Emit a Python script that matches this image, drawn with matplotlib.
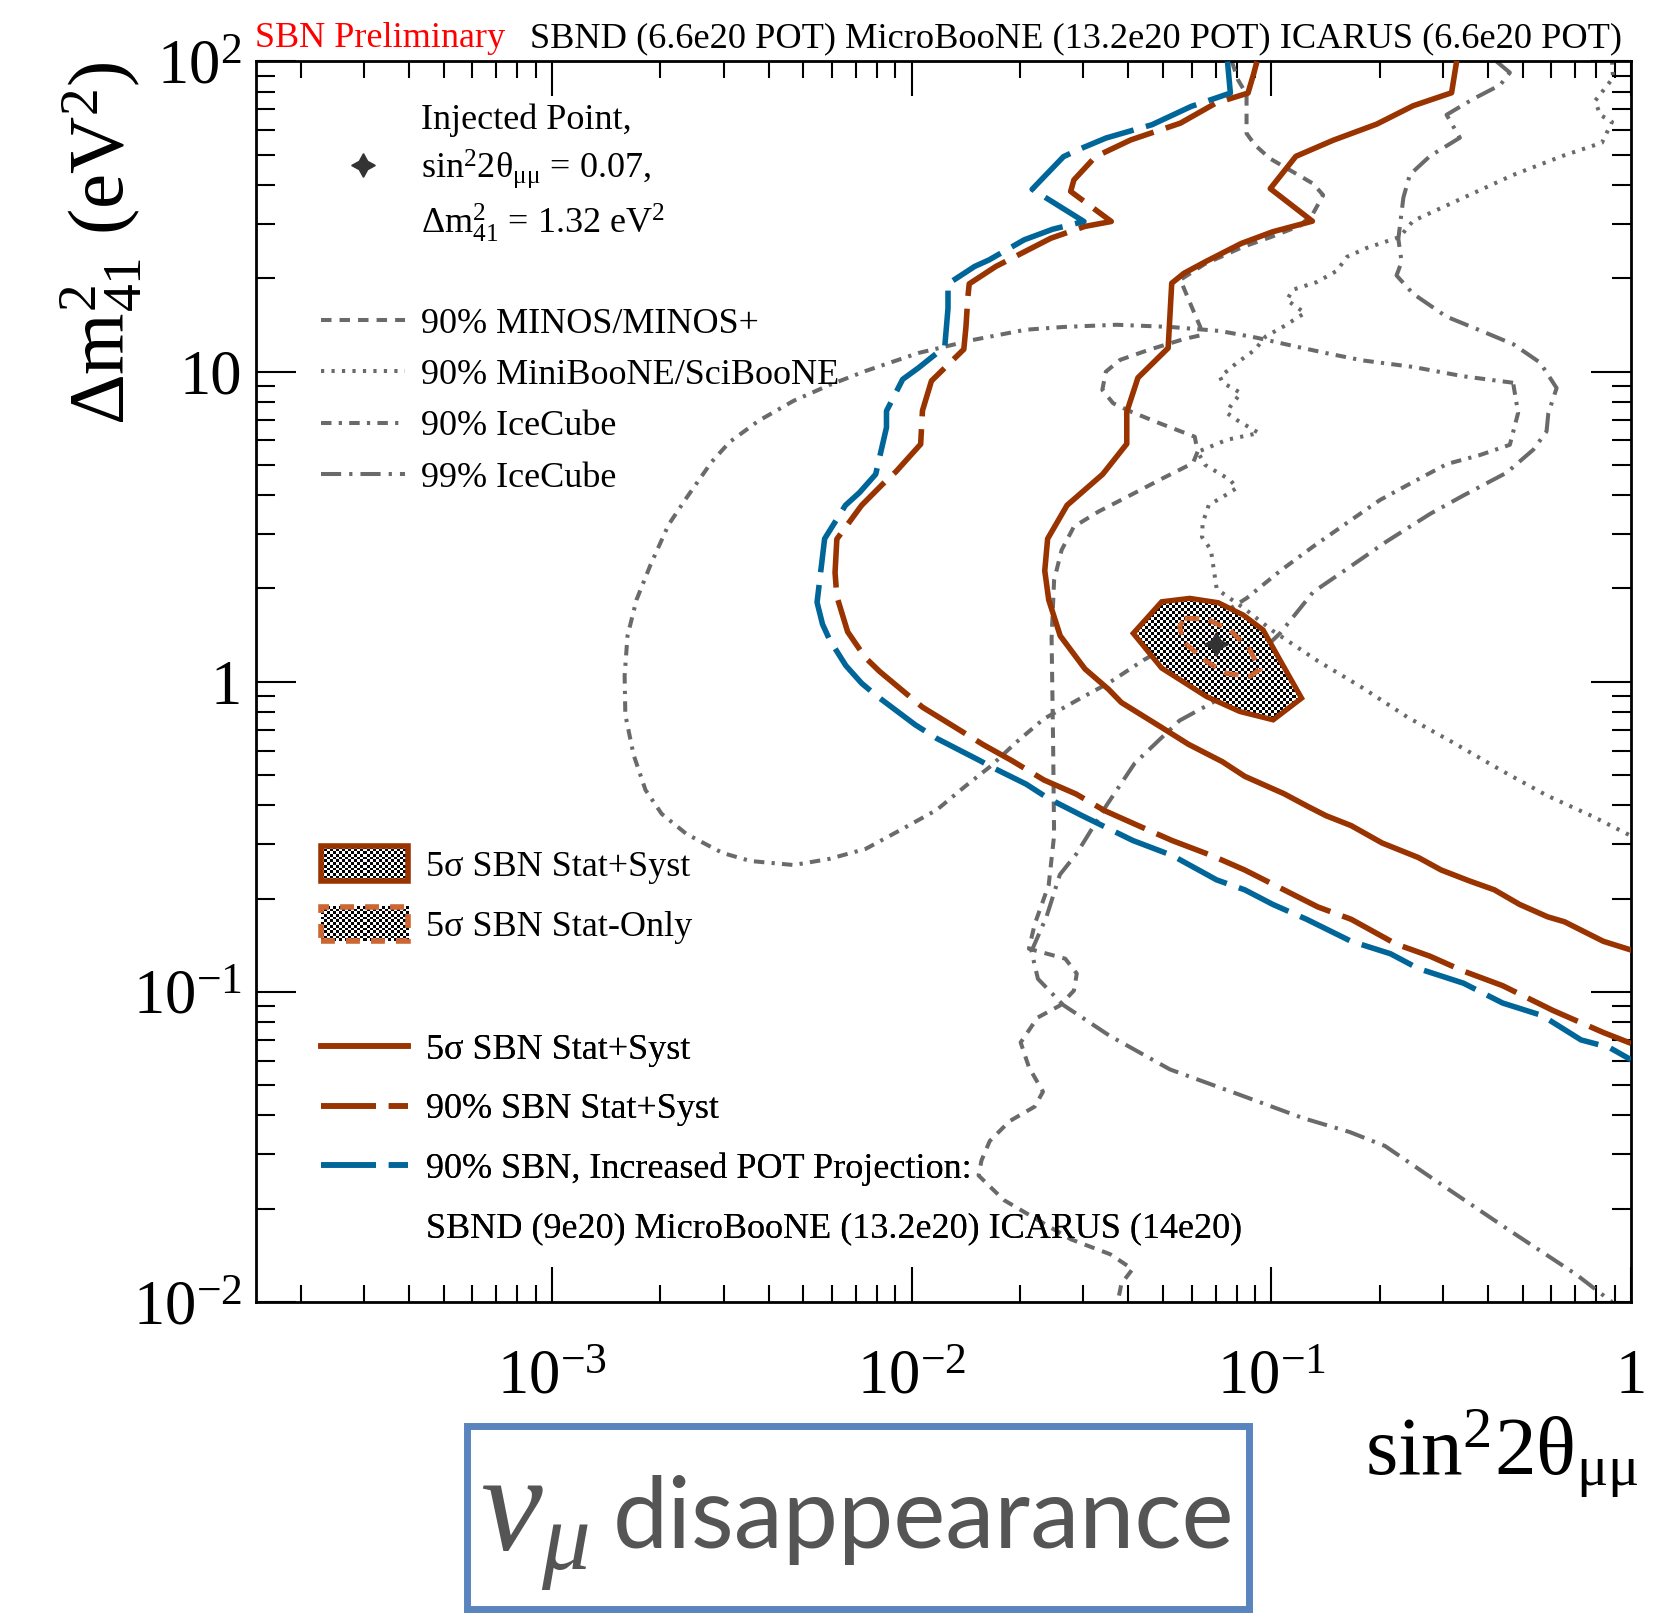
import numpy as np
import matplotlib
matplotlib.use('Agg')
import matplotlib.pyplot as plt
from matplotlib.lines import Line2D
from matplotlib.patches import Polygon, Rectangle
from matplotlib.image import BboxImage
from matplotlib.transforms import Bbox, TransformedBbox
from matplotlib.legend_handler import HandlerPatch
from matplotlib.ticker import LogLocator, FuncFormatter, NullFormatter

plt.rcParams['font.family'] = ['Liberation Serif', 'DejaVu Serif']
plt.rcParams['mathtext.fontset'] = 'custom'
plt.rcParams['mathtext.rm'] = 'Liberation Serif'
plt.rcParams['mathtext.it'] = 'Liberation Serif:italic'
plt.rcParams['mathtext.bf'] = 'Liberation Serif:bold'

# ---------------- data (log10 of sin^2 2theta, log10 of dm^2) ----------------
blue_log_sin2 = [-1.122, -1.114, -1.223, -1.332, -1.460, -1.534, -1.578, -1.665, -1.521, -1.608,
                 -1.687, -1.785, -1.825, -1.899, -1.899, -1.908, -1.980, -2.025, -2.070, -2.070,
                 -2.100, -2.145, -2.184, -2.242, -2.263, -2.248, -2.228, -2.183, -2.139, -2.099,
                 -1.990, -1.930, -1.811, -1.771, -1.682, -1.619, -1.526, -1.385, -1.276, -1.152,
                 -1.074, -0.996, -0.902, -0.778, -0.669, -0.591, -0.466, -0.357, -0.248, -0.139,
                 -0.061, 0.0]
blue_log_dm2 = [2.0, 1.898, 1.855, 1.796, 1.753, 1.717, 1.693, 1.588, 1.484, 1.459,
                1.425, 1.360, 1.339, 1.283, 1.204, 1.080, 1.013, 0.975, 0.873, 0.820,
                0.669, 0.610, 0.569, 0.461, 0.256, 0.186, 0.135, 0.052, -0.005, -0.044,
                -0.139, -0.183, -0.254, -0.279, -0.330, -0.377, -0.432, -0.512, -0.560, -0.639,
                -0.671, -0.718, -0.766, -0.837, -0.877, -0.925, -0.972, -1.036, -1.076, -1.155,
                -1.179, -1.219]

red90_log_sin2 = [-1.040, -1.050, -1.065, -1.154, -1.253, -1.391, -1.489, -1.549, -1.558, -1.445,
                  -1.519, -1.613, -1.766, -1.840, -1.844, -1.849, -1.855, -1.900, -1.945, -1.970,
                  -1.975, -2.044, -2.079, -2.139, -2.208, -2.213, -2.208, -2.178, -2.129, -2.089,
                  -1.970, -1.890, -1.801, -1.722, -1.632, -1.543, -1.463, -1.370, -1.276, -1.167,
                  -1.074, -0.965, -0.871, -0.778, -0.653, -0.559, -0.466, -0.357, -0.217, -0.077, 0.0]
red90_log_dm2 = [2.0, 1.957, 1.898, 1.866, 1.801, 1.747, 1.693, 1.618, 1.581, 1.484,
                 1.468, 1.430, 1.339, 1.283, 1.237, 1.145, 1.072, 1.021, 0.970, 0.874,
                 0.766, 0.677, 0.639, 0.569, 0.460, 0.352, 0.275, 0.161, 0.078, 0.033,
                 -0.082, -0.139, -0.203, -0.254, -0.317, -0.362, -0.416, -0.464, -0.512, -0.560,
                 -0.607, -0.671, -0.726, -0.766, -0.846, -0.885, -0.933, -0.980, -1.060, -1.131, -1.166]

red5s_log_sin2 = [-0.485, -0.499, -0.606, -0.707, -0.828, -0.932, -1.003, -0.886, -0.996, -1.084,
                  -1.182, -1.243, -1.277, -1.287, -1.371, -1.402, -1.402, -1.469, -1.568, -1.622,
                  -1.630, -1.619, -1.587, -1.518, -1.453, -1.417, -1.307, -1.230, -1.136, -1.074,
                  -0.965, -0.902, -0.848, -0.778, -0.692, -0.591, -0.528, -0.450, -0.380, -0.310,
                  -0.232, -0.185, -0.077, 0.0]
red5s_log_dm2 = [2.0, 1.899, 1.857, 1.798, 1.746, 1.694, 1.590, 1.485, 1.451, 1.413,
                 1.355, 1.317, 1.285, 1.076, 0.980, 0.870, 0.767, 0.669, 0.569, 0.461,
                 0.358, 0.264, 0.148, 0.041, -0.024, -0.067, -0.146, -0.202, -0.258, -0.305,
                 -0.361, -0.400, -0.432, -0.464, -0.520, -0.567, -0.607, -0.642, -0.671, -0.718,
                 -0.758, -0.774, -0.837, -0.865]

island_log_sin2 = [-1.384, -1.305, -1.227, -1.148, -1.078, -1.023, -0.976, -0.916, -0.995, -1.088, -1.180, -1.305]
island_log_dm2 = [0.156, 0.258, 0.269, 0.255, 0.215, 0.167, 0.070, -0.053, -0.123, -0.096, -0.048, 0.044]

statonly_log_sin2 = [-1.241, -1.180, -1.115, -1.060, -1.032, -1.060, -1.125, -1.180, -1.245, -1.255]
statonly_log_dm2 = [0.205, 0.202, 0.167, 0.103, 0.040, 0.017, 0.027, 0.065, 0.129, 0.178]

injected_sin2 = [0.07]
injected_dm2 = [1.32]

minos_log_sin2 = [-1.110, -1.092, -1.069, -1.069, -1.046, -1.004, -0.949, -0.884, -0.856, -0.884,
                  -0.921, -1.001, -1.079, -1.185, -1.253, -1.218, -1.198, -1.193, -1.243, -1.341,
                  -1.420, -1.460, -1.470, -1.440, -1.391, -1.312, -1.213, -1.205, -1.218, -1.302,
                  -1.381, -1.480, -1.549, -1.583, -1.604, -1.611, -1.607, -1.604, -1.619, -1.658,
                  -1.674, -1.573, -1.541, -1.549, -1.588, -1.650, -1.697, -1.674, -1.635, -1.658,
                  -1.728, -1.783, -1.806, -1.814, -1.744, -1.650, -1.557, -1.448, -1.386, -1.417, -1.427]
minos_log_dm2 = [2.0, 1.939, 1.894, 1.768, 1.731, 1.687, 1.650, 1.606, 1.569, 1.510,
                 1.470, 1.434, 1.402, 1.347, 1.296, 1.199, 1.145, 1.118, 1.105, 1.070,
                 1.038, 1.000, 0.941, 0.898, 0.871, 0.834, 0.790, 0.742, 0.705, 0.656,
                 0.608, 0.549, 0.500, 0.425, 0.328, 0.140, -0.178, -0.496, -0.655, -0.782,
                 -0.861, -0.893, -0.941, -0.996, -1.044, -1.083, -1.163, -1.243, -1.322, -1.370,
                 -1.417, -1.481, -1.544, -1.592, -1.671, -1.735, -1.798, -1.846, -1.894, -1.941, -2.0]

mb_log_sin2 = [-0.053, -0.050, -0.100, -0.086, -0.053, -0.081, -0.189, -0.328, -0.467, -0.606,
               -0.643, -0.734, -0.790, -0.818, -0.873, -0.940, -0.957, -0.907, -0.967, -1.016,
               -1.046, -1.096, -1.143, -1.135, -1.085, -1.115, -1.124, -1.096, -1.035, -1.124,
               -1.205, -1.184, -1.115, -1.096, -1.135, -1.174, -1.191, -1.193, -1.168, -1.160,
               -1.152, -1.074, -0.996, -0.871, -0.746, -0.622, -0.498, -0.356, -0.232, -0.109, 0.0]
mb_log_dm2 = [2.0, 1.947, 1.873, 1.828, 1.805, 1.738, 1.696, 1.634, 1.560, 1.486,
              1.434, 1.399, 1.370, 1.325, 1.289, 1.264, 1.231, 1.189, 1.145, 1.113,
              1.070, 1.028, 0.983, 0.964, 0.931, 0.886, 0.867, 0.844, 0.802, 0.780,
              0.741, 0.699, 0.651, 0.625, 0.596, 0.570, 0.512, 0.467, 0.425, 0.361,
              0.299, 0.235, 0.164, 0.067, -0.020, -0.114, -0.194, -0.289, -0.368, -0.433, -0.497]

ic90_log_sin2 = [-0.328, -0.467, -0.606, -0.746, -0.837, -0.929, -1.040, -1.143, -1.282, -1.430,
                 -1.577, -1.683, -1.830, -1.981, -2.128, -2.228, -2.328, -2.426, -2.506, -2.556,
                 -2.626, -2.676, -2.726, -2.765, -2.790, -2.798, -2.796, -2.773, -2.740, -2.695,
                 -2.626, -2.526, -2.448, -2.328, -2.228, -2.128, -2.031, -1.930, -1.850, -1.780,
                 -1.711, -1.633, -1.533, -1.452, -1.355, -1.199, -1.068, -0.976, -0.885, -0.790,
                 -0.698, -0.606, -0.512, -0.420, -0.337, -0.314]
ic90_log_dm2 = [0.964, 0.985, 1.015, 1.036, 1.057, 1.080, 1.109, 1.131, 1.144, 1.151,
                1.144, 1.135, 1.102, 1.060, 1.002, 0.957, 0.906, 0.841, 0.773, 0.709,
                0.593, 0.506, 0.377, 0.264, 0.148, 0.019, -0.107, -0.236, -0.349, -0.426,
                -0.491, -0.552, -0.578, -0.591, -0.571, -0.539, -0.478, -0.413, -0.336, -0.272,
                -0.197, -0.120, -0.055, -0.004, 0.070, 0.174, 0.270, 0.357, 0.435, 0.512,
                0.586, 0.644, 0.702, 0.731, 0.764, 0.867]

ic99_log_sin2 = [-0.374, -0.337, -0.364, -0.439, -0.513, -0.476, -0.559, -0.615, -0.633, -0.647,
                 -0.638, -0.652, -0.606, -0.513, -0.420, -0.327, -0.253, -0.207, -0.230, -0.235,
                 -0.272, -0.346, -0.467, -0.559, -0.680, -0.791, -0.884, -0.976, -1.069, -1.162,
                 -1.255, -1.380, -1.458, -1.542, -1.588, -1.625, -1.667, -1.649, -1.579, -1.449,
                 -1.282, -1.097, -0.912, -0.782, -0.684, -0.544, -0.341, -0.154, -0.053]
ic99_log_dm2 = [2.0, 1.964, 1.924, 1.879, 1.828, 1.754, 1.695, 1.635, 1.561, 1.428,
                1.354, 1.310, 1.251, 1.177, 1.133, 1.088, 1.029, 0.947, 0.866, 0.807,
                0.748, 0.674, 0.600, 0.541, 0.452, 0.363, 0.289, 0.156, 0.053, -0.066,
                -0.125, -0.263, -0.398, -0.555, -0.622, -0.757, -0.869, -0.958, -1.042, -1.142,
                -1.250, -1.328, -1.407, -1.452, -1.497, -1.608, -1.767, -1.910, -2.0]

labels_gray = ['90% MINOS/MINOS+', '90% MiniBooNE/SciBooNE', '90% IceCube', '99% IceCube']
labels_patch = ['5σ SBN Stat+Syst', '5σ SBN Stat-Only']
labels_sbn = ['5σ SBN Stat+Syst', '90% SBN Stat+Syst', '90% SBN, Increased POT Projection:',
              'SBND (9e20) MicroBooNE (13.2e20) ICARUS (14e20)']
injected_labels = ['Injected Point,', r'sin$^{2}$2θ$_{\mathrm{μμ}}$ = 0.07,',
                   r'Δ$\mathrm{m}^{2}_{41}$ = 1.32 eV$^{2}$']

# ---------------- styles ----------------
RED = '#993300'
BLUE = '#006699'
ORANGE = '#cc6633'
GRAY = '#6a6a6a'
LW_SBN = 4.0
LW_GRAY = 2.9
LS_SBN_DASH = (0, (9.9, 2.3))
LS_MINOS = (0, (2.6, 2.0))
LS_MB = (0, (0.8, 1.8))
LS_IC90 = (0, (2.6, 1.8, 0.8, 1.8))
LS_IC99 = (0, (5.0, 2.0, 0.8, 2.0))
FS = 26


def P(v):
    return np.power(10.0, np.asarray(v, dtype=float))


fig = plt.figure(figsize=(16.63, 16.13), dpi=100)
ax = fig.add_axes([0.1537, 0.1928, 0.8271, 0.7691])
ax.set_xscale('log')
ax.set_yscale('log')

# gray external limits
ax.plot(P(minos_log_sin2), P(minos_log_dm2), color=GRAY, lw=LW_GRAY, ls=LS_MINOS, zorder=2)
ax.plot(P(mb_log_sin2), P(mb_log_dm2), color=GRAY, lw=LW_GRAY, ls=LS_MB, zorder=2)
ax.plot(P(np.r_[ic90_log_sin2, ic90_log_sin2[:1]]), P(np.r_[ic90_log_dm2, ic90_log_dm2[:1]]),
        color=GRAY, lw=LW_GRAY, ls=LS_IC90, zorder=2)
ax.plot(P(ic99_log_sin2), P(ic99_log_dm2), color=GRAY, lw=LW_GRAY, ls=LS_IC99, zorder=2)

# checkerboard-filled 5 sigma island
checker = np.indices((413, 458)).sum(axis=0) % 2
island = Polygon(np.column_stack([P(island_log_sin2), P(island_log_dm2)]), closed=True,
                 facecolor='none', edgecolor=RED, lw=3.8, zorder=3.5, joinstyle='miter')
ax.add_patch(island)
img = BboxImage(ax.bbox, cmap='gray', interpolation='nearest', zorder=3)
img.set_data(checker)
img.set_clim(0, 1)
ax.add_artist(img)
img.set_clip_path(island)

stat_only = Polygon(np.column_stack([P(statonly_log_sin2), P(statonly_log_dm2)]), closed=True,
                    facecolor='none', edgecolor=ORANGE, lw=3.5, ls=(0, (3.0, 2.0)), zorder=3.7)
ax.add_patch(stat_only)

# SBN sensitivity curves
ax.plot(P(red5s_log_sin2), P(red5s_log_dm2), color=RED, lw=LW_SBN, zorder=4)
ax.plot(P(red90_log_sin2), P(red90_log_dm2), color=RED, lw=LW_SBN, ls=LS_SBN_DASH, zorder=4)
ax.plot(P(blue_log_sin2), P(blue_log_dm2), color=BLUE, lw=LW_SBN, ls=LS_SBN_DASH, zorder=4)

ax.plot(injected_sin2, injected_dm2, ls='none', marker=(4, 1, 0), ms=17, color='#333333', zorder=5)

ax.set_xlim(1.5e-4, 1.0)
ax.set_ylim(1e-2, 1e2)


def log_label(v, pos):
    e = int(np.round(np.log10(v)))
    if e == 0:
        return '1'
    if e == 1:
        return '10'
    return r'$10^{%d}$' % e


for axis in (ax.xaxis, ax.yaxis):
    axis.set_major_locator(LogLocator(base=10, numticks=20))
    axis.set_minor_locator(LogLocator(base=10, subs=np.arange(2, 10), numticks=50))
    axis.set_major_formatter(FuncFormatter(log_label))
    axis.set_minor_formatter(NullFormatter())

ax.tick_params(which='both', direction='in', top=True, right=True, width=1.5)
ax.tick_params(axis='x', which='major', length=25, pad=34, labelsize=45)
ax.tick_params(axis='x', which='minor', length=12)
ax.tick_params(axis='y', which='major', length=29, pad=10, labelsize=45)
ax.tick_params(axis='y', which='minor', length=14)
for sp in ax.spines.values():
    sp.set_linewidth(2.0)

ax.text(1.0058, -0.1387, r'sin$^{2}$2θ$_{\mathrm{μμ}}$', transform=ax.transAxes,
        ha='right', va='baseline', fontsize=60)
ax.text(-0.1124, 1.0, r'Δ$\mathrm{m}^{2}_{41}$ (eV$^{2}$)', transform=ax.transAxes,
        rotation=90, ha='center', va='top', fontsize=57)

fig.text(0.1533, 0.9709, 'SBN Preliminary', color='red', fontsize=FS, va='baseline')
fig.text(0.3187, 0.9709, 'SBND (6.6e20 POT) MicroBooNE (13.2e20 POT) ICARUS (6.6e20 POT)',
         color='black', fontsize=26.2, va='baseline')

# ---------------- legends ----------------
legend_checker = np.indices((13, 29)).sum(axis=0) % 2


class HandlerChecker(HandlerPatch):
    def create_artists(self, legend, orig_handle, xdescent, ydescent, width, height, fontsize, trans):
        x0, y0 = -xdescent, -ydescent
        bb = TransformedBbox(Bbox.from_bounds(x0, y0, width, height), trans)
        im = BboxImage(bb, cmap='gray', interpolation='nearest')
        im.set_data(legend_checker)
        im.set_clim(0, 1)
        rect = Rectangle((x0, y0), width, height, facecolor='none',
                         edgecolor=orig_handle.get_edgecolor(), linewidth=orig_handle.get_linewidth(),
                         linestyle=orig_handle.get_linestyle(), transform=trans)
        return [im, rect]


common = dict(loc='upper left', frameon=False, fontsize=FS, borderpad=0, borderaxespad=0)

inv = Line2D([], [], color='none')
star_h = Line2D([], [], ls='none', marker=(4, 1, 0), ms=17, color='#333333')
leg0 = ax.legend([inv, star_h, inv], injected_labels, bbox_to_anchor=(0.0476, 0.9663),
                 handlelength=2.32, handletextpad=0.45, labelspacing=0.30, **common)
ax.add_artist(leg0)

gray_handles = [Line2D([], [], color=GRAY, lw=LW_GRAY, ls=LS_MINOS),
                Line2D([], [], color=GRAY, lw=LW_GRAY, ls=LS_MB),
                Line2D([], [], color=GRAY, lw=LW_GRAY, ls=LS_IC90),
                Line2D([], [], color=GRAY, lw=LW_GRAY, ls=LS_IC99)]
leg1 = ax.legend(gray_handles, labels_gray, bbox_to_anchor=(0.0476, 0.8017),
                 handlelength=2.32, handletextpad=0.45, labelspacing=0.50, **common)
ax.add_artist(leg1)

patch_handles = [Rectangle((0, 0), 1, 1, facecolor='none', edgecolor=RED, lw=4.0),
                 Rectangle((0, 0), 1, 1, facecolor='none', edgecolor=ORANGE, lw=4.0, ls=(0, (2.5, 2.0)))]
leg2 = ax.legend(patch_handles, labels_patch, bbox_to_anchor=(0.0476, 0.3675),
                 handlelength=2.41, handleheight=1.1, handletextpad=0.5, labelspacing=0.64,
                 handler_map={Rectangle: HandlerChecker()}, **common)
ax.add_artist(leg2)

sbn_handles = [Line2D([], [], color=RED, lw=LW_SBN),
               Line2D([], [], color=RED, lw=LW_SBN, ls=LS_SBN_DASH),
               Line2D([], [], color=BLUE, lw=LW_SBN, ls=LS_SBN_DASH),
               Line2D([], [], color='none')]
leg3 = ax.legend(sbn_handles, labels_sbn, bbox_to_anchor=(0.0476, 0.2166),
                 handlelength=2.41, handletextpad=0.5, labelspacing=0.73, **common)
ax.add_artist(leg3)

# ---------------- bottom label box ----------------
fig.patches.append(Rectangle((0.2808, 0.0025), 0.4703, 0.1134, transform=fig.transFigure,
                             fill=False, edgecolor='#5a84bd', lw=5.0))
fig.text(0.2886, 0.039, r'$\nu_{\mu}$', fontsize=100, color='#555555', va='baseline')
fig.text(0.3686, 0.0403, 'disappearance', fontsize=71, color='#555555', va='baseline',
         family=['Lato', 'DejaVu Sans'], weight='normal')

fig.savefig('out.png', dpi=100)
